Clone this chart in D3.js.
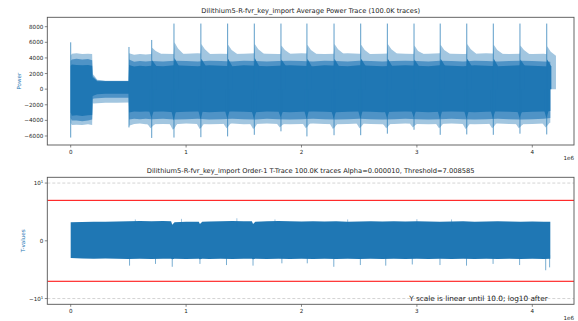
<!DOCTYPE html>
<html><head><meta charset="utf-8">
<script src="https://cdn.jsdelivr.net/npm/d3@7"></script>
<style>body{margin:0;background:#fff}svg{display:block}text{font-family:"DejaVu Sans",sans-serif}</style>
</head><body><svg id="c" width="578" height="321"></svg>
<script>
// ---------------- DATA ----------------
const powerTitle = "Dilithium5-R-fvr_key_import Average Power Trace (100.0K traces)";
const tTitle = "Dilithium5-R-fvr_key_import Order-1 T-Trace 100.0K traces Alpha=0.000010, Threshold=7.008585";
const xTicks = [0, 1, 2, 3, 4];              // x in units of 1e6 samples
const powerTicks = [-6000, -4000, -2000, 0, 2000, 4000, 6000, 8000];
const tTicks = [-10, 0, 10];
const threshold = 7.008585;
const linthresh = 10;

// Average power trace, envelope (x in 1e6 samples)
const powerX = [0.000, 0.010, 0.050, 0.100, 0.150, 0.186, 0.190, 0.200, 0.230, 0.300, 0.400, 0.503,
  0.506, 0.550, 0.600, 0.650,
  0.700, 0.800, 0.900, 1.000, 1.100, 1.200, 1.300, 1.400, 1.500, 1.600, 1.700, 1.800, 1.900, 2.000,
  2.100, 2.200, 2.300, 2.400, 2.500, 2.600, 2.700, 2.800, 2.900, 3.000, 3.100, 3.200, 3.300, 3.400,
  3.500, 3.600, 3.700, 3.800, 3.900, 4.000, 4.100, 4.156];
const powerOuterTop = [4300, 4550, 4600, 4500, 4550, 4500, 1900, 1800, 1200, 1080, 1080, 1080,
  4600, 4400, 4500, 4450,
  4500, 4550, 4500, 4550, 4600, 4500, 4550, 4500, 4550, 4600, 4550, 4500, 4550, 4600,
  4550, 4500, 4550, 4600, 4550, 4500, 4550, 4600, 4550, 4500, 4550, 4600, 4550, 4500,
  4550, 4600, 4550, 4500, 4550, 4500, 4550, 4400];
const powerOuterBot = [-4300, -4600, -4550, -4600, -4500, -4600, -1800, -1850, -1800, -1750, -1750, -1700,
  -4700, -4450, -4400, -4500,
  -4500, -4450, -4500, -4400, -4450, -4500, -4450, -4400, -4500, -4450, -4400, -4450, -4500, -4450,
  -4400, -4450, -4500, -4450, -4400, -4450, -4500, -4450, -4400, -4450, -4500, -4450, -4400, -4450,
  -4500, -4450, -4400, -4450, -4500, -4450, -4400, -4300];
const powerMidTop = [3600, 3800, 3900, 3800, 3850, 3700, 1700, 1600, 1100, 1050, 1050, 1050,
  3800, 3500, 3600, 3550,
  3600, 3550, 3650, 3600, 3550, 3650, 3600, 3550, 3650, 3600, 3550, 3600, 3650, 3600,
  3550, 3650, 3600, 3550, 3650, 3600, 3550, 3600, 3650, 3600, 3550, 3650, 3600, 3550,
  3650, 3600, 3550, 3600, 3650, 3600, 3550, 3500];
const powerMidBot = [-3700, -4000, -4000, -4100, -4000, -3900, -1300, -1200, -1150, -1100, -1100, -1100,
  -3900, -3800, -3850, -3800,
  -3850, -3800, -3900, -3850, -3800, -3900, -3850, -3800, -3850, -3900, -3800, -3850, -3900, -3850,
  -3800, -3850, -3900, -3850, -3800, -3850, -3900, -3850, -3800, -3850, -3900, -3850, -3800, -3850,
  -3900, -3850, -3800, -3850, -3900, -3850, -3800, -3700];
const powerCoreTop = [3000, 3150, 3100, 3050, 3100, 3000, 1500, 1400, 1000, 1000, 1000, 1000,
  3100, 2900, 3000, 2950,
  3000, 2950, 3050, 3000, 2950, 3050, 3000, 2950, 3050, 3000, 2950, 3000, 3050, 3000,
  2950, 3050, 3000, 2950, 3050, 3000, 2950, 3000, 3050, 3000, 2950, 3050, 3000, 2950,
  3050, 3000, 2950, 3000, 3050, 3000, 2950, 2900];
const powerCoreBot = [-3000, -3400, -3350, -3450, -3350, -3300, -900, -800, -650, -600, -600, -600,
  -3000, -2850, -2900, -2850,
  -2900, -2850, -2950, -2900, -2850, -2950, -2900, -2850, -2900, -2950, -2850, -2900, -2950, -2900,
  -2850, -2900, -2950, -2900, -2850, -2900, -2950, -2900, -2850, -2900, -2950, -2900, -2850, -2900,
  -2950, -2900, -2850, -2900, -2950, -2900, -2850, -2800];

// Periodic spikes in the power trace
const powerSpikeX   = [0.000, 0.505, 0.702, 0.895, 1.128, 1.360, 1.591, 1.822, 2.047, 2.282, 2.513, 2.744, 2.975, 3.202, 3.432, 3.662, 3.893, 4.125];
const powerSpikeTop = [6000, 5400, 6300, 8400, 8400, 8400, 8400, 8400, 8400, 8400, 8400, 8400, 8400, 8400, 8400, 8400, 8400, 8400];
const powerSpikeBot = [-6200, -4900, -6250, -6200, -6150, -6050, -5850, -5400, -6050, -5900, -5900, -5700, -5200, -5850, -5800, -5850, -5700, -5800];
const shoulderTopNear = [null, null, 5300, 6000, 5800, 5700, 5800, 5600, 5700, 5800, 5700, 5800, 5600, 5700, 5800, 5700, 5600, 5500];
const shoulderTopFar  = [null, null, 4900, 5200, 5100, 5000, 5100, 5000, 5000, 5100, 5000, 5100, 4900, 5000, 5100, 5000, 5000, 4800];
const shoulderBotNear = [null, null, -5000, -5200, -5100, -5000, -5100, -4900, -5000, -5100, -5000, -5000, -4900, -5000, -5100, -5000, -5000, -4900];
const coreBumpTop     = [null, null, 3700, 4000, 3900, 3900, 4000, 3800, 3900, 3900, 3900, 3900, 3800, 3900, 3900, 3900, 3800, 3800];
const coreBumpBot     = [null, null, -3700, -4000, -3900, -3800, -3800, -3600, -3800, -3800, -3800, -3700, -3600, -3800, -3800, -3800, -3700, -3700];

// T-test trace band
const tX = [0, 0.1, 0.2, 0.3, 0.4, 0.5, 0.6, 0.7, 0.8, 0.87, 0.88, 0.9, 1.0, 1.11, 1.12, 1.14, 1.2, 1.3, 1.4, 1.5,
  1.57, 1.58, 1.6, 1.7, 1.8, 1.9, 2.0, 2.1, 2.2, 2.3, 2.4, 2.5, 2.6, 2.7, 2.8, 2.9, 3.0, 3.1, 3.2, 3.3, 3.4,
  3.5, 3.6, 3.7, 3.8, 3.9, 4.0, 4.1, 4.156];
const tBandTop = [3.2, 3.25, 3.3, 3.3, 3.35, 3.4, 3.45, 3.4, 3.45, 3.4, 2.8, 3.2, 3.3, 3.3, 2.9, 3.3, 3.35, 3.4, 3.45, 3.4,
  3.4, 2.9, 3.3, 3.4, 3.45, 3.4, 3.35, 3.4, 3.35, 3.4, 3.3, 3.35, 3.4, 3.35, 3.4, 3.35, 3.4, 3.35, 3.3, 3.35, 3.4,
  3.3, 3.35, 3.4, 3.35, 3.3, 3.35, 3.3, 3.3];
const tBandBot = [-3.0, -3.05, -3.1, -3.05, -3.1, -3.15, -3.1, -3.15, -3.1, -3.1, -3.2, -3.1, -3.15, -3.1, -3.2, -3.1, -3.15, -3.1, -3.15, -3.1,
  -3.1, -3.2, -3.1, -3.15, -3.1, -3.15, -3.1, -3.15, -3.1, -3.15, -3.1, -3.15, -3.1, -3.15, -3.1, -3.15, -3.1, -3.15, -3.1, -3.15, -3.1,
  -3.15, -3.1, -3.15, -3.1, -3.15, -3.1, -3.15, -3.1];
const tSpikeX   = [0.51, 0.735, 0.88, 1.12, 1.35, 1.58, 1.83, 2.05, 2.28, 2.51, 2.73, 2.96, 3.2, 3.43, 3.66, 3.89, 4.116, 4.15];
const tSpikeMin = [-4.3, -4.0, -4.5, -4.0, -4.2, -4.3, -3.9, -3.9, -4.5, -4.2, -4.3, -4.1, -4.2, -4.3, -4.0, -4.2, -5.1, -4.6];
const tUpX   = [0.56, 0.96, 1.44, 1.77, 2.4, 3.0, 3.3];
const tUpMax = [3.7, 3.8, 3.9, 3.7, 3.7, 3.75, 3.7];

// ---------------- LAYOUT / STYLE ----------------
const L = 47.3, R = 574;
const P = {t: 17.3, b: 145};
const T = {t: 177.3, b: 304.3};
const blue = "#1f77b4", light = "#a2c6e0", mid = "#4f93c6", spine = "#555";
const svg = d3.select("#c");

const x = d3.scaleLinear().domain([-0.2027, 4.3613]).range([L, R]);
const yP = d3.scaleLinear().domain([-7153, 9204]).range([P.b, P.t]);
// matplotlib-style symlog (linthresh 10, linscale 1, base 10)
const linAdj = 1 / (1 - 1 / 10);
function symT(v) {
  const a = Math.abs(v);
  return a <= linthresh ? v * linAdj : Math.sign(v) * linthresh * (linAdj + Math.log10(a / linthresh));
}
const yTlin = d3.scaleLinear().domain([-12.22, 12.22]).range([T.b, T.t]);
const yT = v => yTlin(symT(v));

const defs = svg.append("defs");
[["clipP", P], ["clipT", T]].forEach(([id, b]) => {
  defs.append("clipPath").attr("id", id).append("rect")
    .attr("x", L).attr("y", b.t).attr("width", R - L).attr("height", b.b - b.t);
});

// ---------- Power panel ----------
const gP = svg.append("g").attr("clip-path", "url(#clipP)");
const pIdx = d3.range(powerX.length);
const outerInterp = d3.scaleLinear().domain(powerX).range(powerOuterTop);
const outerBInterp = d3.scaleLinear().domain(powerX).range(powerOuterBot);
const coreInterp = d3.scaleLinear().domain(powerX).range(powerCoreTop);
const coreBInterp = d3.scaleLinear().domain(powerX).range(powerCoreBot);
const band = (lo, hi) => d3.area().x(i => x(powerX[i])).y0(i => yP(lo[i])).y1(i => yP(hi[i]))(pIdx);

gP.append("path").attr("fill", light).attr("d", band(powerOuterBot, powerOuterTop));

const sIdx = d3.range(powerSpikeX.length).filter(i => shoulderTopNear[i] !== null);
sIdx.forEach(i => {
  const s = powerSpikeX[i];
  const pts = [[s - 0.003, outerInterp(s - 0.003)], [s + 0.004, shoulderTopNear[i]], [s + 0.035, shoulderTopFar[i]], [s + 0.08, outerInterp(s + 0.08)]];
  gP.append("path").attr("fill", light)
    .attr("d", d3.area().x(d => x(d[0])).y0(yP(0)).y1(d => yP(d[1]))(pts));
  const bpts = [[s - 0.035, outerBInterp(s - 0.035)], [s - 0.01, shoulderBotNear[i]], [s + 0.004, shoulderBotNear[i] + 200], [s + 0.025, outerBInterp(s + 0.025)]];
  gP.append("path").attr("fill", light)
    .attr("d", d3.area().x(d => x(d[0])).y0(yP(0)).y1(d => yP(d[1]))(bpts));
});

gP.append("path").attr("fill", mid).attr("d", band(powerMidBot, powerMidTop));
gP.append("path").attr("fill", blue).attr("d", band(powerCoreBot, powerCoreTop));

sIdx.forEach(i => {
  const s = powerSpikeX[i];
  const pts = [[s - 0.002, coreInterp(s - 0.002)], [s + 0.004, coreBumpTop[i]], [s + 0.04, coreInterp(s + 0.04)]];
  gP.append("path").attr("fill", blue)
    .attr("d", d3.area().x(d => x(d[0])).y0(yP(0)).y1(d => yP(d[1]))(pts));
  const bpts = [[s - 0.02, coreBInterp(s - 0.02)], [s - 0.003, coreBumpBot[i]], [s + 0.015, coreBInterp(s + 0.015)]];
  gP.append("path").attr("fill", blue)
    .attr("d", d3.area().x(d => x(d[0])).y0(yP(0)).y1(d => yP(d[1]))(bpts));
});

gP.selectAll("line.spike").data(d3.range(powerSpikeX.length)).join("line")
  .attr("x1", i => x(powerSpikeX[i])).attr("x2", i => x(powerSpikeX[i]))
  .attr("y1", i => yP(powerSpikeBot[i])).attr("y2", i => yP(powerSpikeTop[i]))
  .attr("stroke", blue).attr("stroke-width", 0.9).attr("stroke-opacity", 0.8);

// ---------- T panel ----------
const gT = svg.append("g").attr("clip-path", "url(#clipT)");
[10, -10].forEach(v => gT.append("line").attr("x1", L).attr("x2", R).attr("y1", yT(v)).attr("y2", yT(v))
  .attr("stroke", "#c8c8c8").attr("stroke-width", 0.8).attr("stroke-dasharray", "3,2"));
const tIdx = d3.range(tX.length);
gT.append("path").attr("fill", blue)
  .attr("d", d3.area().x(i => x(tX[i])).y0(i => yT(tBandBot[i])).y1(i => yT(tBandTop[i]))(tIdx));
gT.selectAll("line.ts").data(d3.range(tSpikeX.length)).join("line")
  .attr("x1", i => x(tSpikeX[i])).attr("x2", i => x(tSpikeX[i]))
  .attr("y1", yT(-2.5)).attr("y2", i => yT(tSpikeMin[i]))
  .attr("stroke", blue).attr("stroke-width", 0.8).attr("stroke-opacity", 0.75);
gT.selectAll("line.tu").data(d3.range(tUpX.length)).join("line")
  .attr("x1", i => x(tUpX[i])).attr("x2", i => x(tUpX[i]))
  .attr("y1", yT(2.5)).attr("y2", i => yT(tUpMax[i]))
  .attr("stroke", blue).attr("stroke-width", 0.7).attr("stroke-opacity", 0.6);
[threshold, -threshold].forEach(v => gT.append("line").attr("x1", L).attr("x2", R).attr("y1", yT(v)).attr("y2", yT(v))
  .attr("stroke", "#ff0000").attr("stroke-width", 1));

// ---------- axes ----------
function frame(b) {
  svg.append("rect").attr("x", L).attr("y", b.t).attr("width", R - L).attr("height", b.b - b.t)
    .attr("fill", "none").attr("stroke", spine).attr("stroke-width", 0.9);
}
frame(P); frame(T);

const tickFs = 5.6;
function xAxis(b) {
  xTicks.forEach(v => {
    svg.append("line").attr("x1", x(v)).attr("x2", x(v)).attr("y1", b.b).attr("y2", b.b + 2.5).attr("stroke", spine).attr("stroke-width", 0.7);
    svg.append("text").attr("x", x(v)).attr("y", b.b + 8.6).attr("text-anchor", "middle")
      .attr("font-size", tickFs).attr("fill", "#222").text(v);
  });
  svg.append("text").attr("x", R).attr("y", b.b + 15.4).attr("text-anchor", "end")
    .attr("font-size", tickFs).attr("fill", "#222").text("1e6");
}
xAxis(P); xAxis(T);

powerTicks.forEach(v => {
  svg.append("line").attr("x1", L - 2.5).attr("x2", L).attr("y1", yP(v)).attr("y2", yP(v)).attr("stroke", spine).attr("stroke-width", 0.7);
  svg.append("text").attr("x", L - 4).attr("y", yP(v)).attr("dy", "0.36em").attr("text-anchor", "end")
    .attr("font-size", tickFs).attr("fill", "#222").text(String(v).replace("-", "\u2212"));
});
tTicks.forEach(v => {
  svg.append("line").attr("x1", L - 2.5).attr("x2", L).attr("y1", yT(v)).attr("y2", yT(v)).attr("stroke", spine).attr("stroke-width", 0.7);
  const t = svg.append("text").attr("x", L - 4).attr("y", yT(v)).attr("dy", "0.36em").attr("text-anchor", "end")
    .attr("font-size", tickFs).attr("fill", "#222");
  if (v === 0) t.text("0");
  else {
    t.append("tspan").text((v < 0 ? "\u2212" : "") + "10");
    t.append("tspan").attr("dy", "-0.45em").attr("font-size", tickFs * 0.7).text(Math.log10(Math.abs(v)));
  }
});

svg.append("text").attr("transform", `translate(19,${(P.t + P.b) / 2}) rotate(-90)`).attr("text-anchor", "middle")
  .attr("font-size", 5.6).attr("fill", blue).attr("dy", "0.36em").text("Power");
svg.append("text").attr("transform", `translate(22.5,${(T.t + T.b) / 2}) rotate(-90)`).attr("text-anchor", "middle")
  .attr("font-size", 5.6).attr("fill", blue).attr("dy", "0.36em").text("T-values");

svg.append("text").attr("x", (L + R) / 2).attr("y", 13).attr("text-anchor", "middle")
  .attr("font-size", 6.7).attr("fill", "#222").text(powerTitle);
svg.append("text").attr("x", (L + R) / 2).attr("y", 173).attr("text-anchor", "middle")
  .attr("font-size", 6.7).attr("fill", "#222").text(tTitle);
svg.append("text").attr("x", L + 0.95 * (R - L)).attr("y", 300.8).attr("text-anchor", "end")
  .attr("font-size", 7.3).attr("fill", "#222").text("Y scale is linear until " + linthresh.toFixed(1) + "; log10 after");
</script></body></html>
